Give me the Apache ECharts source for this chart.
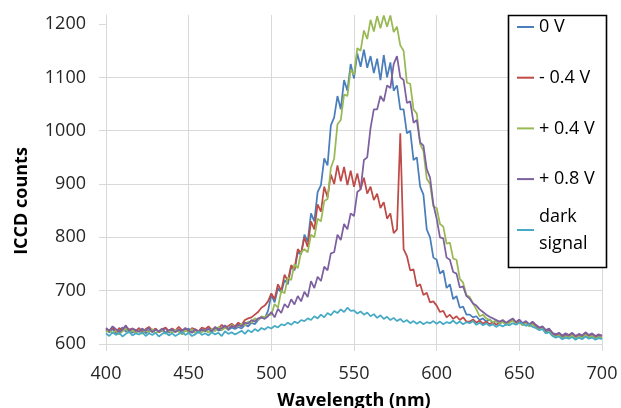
<!DOCTYPE html>
<html><head><meta charset="utf-8">
<script src="https://cdn.jsdelivr.net/npm/echarts@6/dist/echarts.min.js"></script>
<style>html,body{margin:0;padding:0;background:#fff}#c{width:621px;height:408px}</style>
</head><body><div id="c"></div>
<script>
const wavelengths = [
400,402,404,406,408,410,412,414,416,418,
420,422,424,426,428,430,432,434,436,438,
440,442,444,446,448,450,452,454,456,458,
460,462,464,466,468,470,472,474,476,478,
480,482,484,486,488,490,492,494,496,498,
500,502,504,506,508,510,512,514,516,518,
520,522,524,526,528,530,532,534,536,538,
540,542,544,546,548,550,552,554,556,558,
560,562,564,566,568,570,572,574,576,578,
580,582,584,586,588,590,592,594,596,598,
600,602,604,606,608,610,612,614,616,618,
620,622,624,626,628,630,632,634,636,638,
640,642,644,646,648,650,652,654,656,658,
660,662,664,666,668,670,672,674,676,678,
680,682,684,686,688,690,692,694,696,698,
700];

const seriesNames = ['0 V', '- 0.4 V', '+ 0.4 V', '+ 0.8 V', 'dark signal'];

const v0 = [
626,622,628,620,625,631,623,627,621,626,
624,629,620,626,623,628,622,625,630,621,
626,623,627,620,625,629,622,626,621,627,
624,628,622,630,625,627,633,626,631,628,
632,629,636,633,640,637,645,650,648,662,
692,678,705,696,720,712,745,738,772,768,
805,792,845,830,885,898,948,935,1010,1025,
1065,1040,1095,1075,1125,1098,1145,1120,1152,1118,
1140,1108,1135,1095,1142,1100,1128,1075,1085,1040,
1040,995,1000,945,950,895,880,815,800,762,
758,732,738,705,712,684,690,668,670,655,
655,650,652,645,648,642,646,640,643,638,
642,636,640,645,638,642,636,640,634,638,
632,628,630,622,625,618,614,617,612,616,
613,617,611,615,612,618,613,616,611,614,
612];

const vMinus04 = [
628,624,632,622,630,625,633,627,629,624,
630,623,628,632,625,629,622,627,631,624,
629,625,632,626,628,622,630,627,624,631,
628,633,626,631,629,636,630,634,638,633,
640,636,645,648,650,655,660,668,672,680,
695,684,712,700,730,718,748,740,778,770,
800,782,830,815,862,848,895,875,918,900,
935,905,932,898,925,895,920,890,912,882,
895,870,882,855,866,835,845,808,815,995,
778,765,738,740,708,712,692,696,678,680,
672,660,662,650,655,647,652,645,650,642,
642,646,640,644,638,642,637,641,636,640,
643,638,642,646,639,644,637,642,636,640,
635,630,632,625,628,620,617,620,615,619,
616,620,614,618,615,621,616,619,614,617,
615];

const vPlus04 = [
622,627,620,625,618,624,629,621,626,620,
625,619,627,622,628,620,624,626,619,625,
621,627,623,618,626,622,628,620,625,622,
627,621,629,624,632,626,630,628,636,631,
634,638,635,642,640,648,645,652,650,655,
655,675,668,700,695,725,720,750,742,772,
778,772,805,800,835,830,868,872,930,948,
1012,1020,1068,1065,1115,1105,1155,1150,1188,1172,
1208,1186,1215,1192,1216,1195,1216,1185,1195,1160,
1150,1090,1088,1040,1032,975,962,910,900,858,
855,825,820,788,790,760,758,722,715,692,
688,676,665,652,655,648,645,641,644,639,
641,636,640,644,637,641,635,639,633,637,
630,627,629,620,623,616,613,616,610,614,
612,616,610,614,611,617,612,615,610,613,
611];

const vPlus08 = [
630,625,633,628,622,627,635,624,629,626,
623,628,625,630,622,627,624,629,621,626,
628,622,627,624,630,625,621,628,623,627,
625,629,624,632,627,630,635,628,634,631,
636,633,640,638,645,642,648,650,647,652,
660,650,666,658,675,668,684,674,690,680,
698,688,718,705,726,718,745,738,770,772,
805,795,825,815,845,840,885,890,945,950,
1005,1040,1040,1065,1055,1085,1080,1125,1140,1100,
1095,1052,1055,1015,1020,978,972,928,912,862,
835,800,798,762,758,735,732,706,708,690,
685,676,672,665,660,655,651,648,645,642,
645,640,644,648,641,646,639,643,637,642,
636,631,633,626,629,621,618,621,616,620,
617,621,615,619,616,622,617,620,615,618,
616];

const vDark = [
620,615,622,617,621,614,619,623,616,620,
618,622,615,620,617,621,614,619,622,616,
620,615,619,622,617,621,615,618,623,617,
620,616,622,618,621,615,624,619,622,618,
621,625,619,626,622,628,624,630,627,632,
629,634,631,637,635,640,636,642,639,645,
643,648,645,652,648,655,650,658,654,662,
658,665,660,668,662,663,657,661,655,659,
652,656,649,654,647,651,645,649,643,647,
641,645,639,643,638,642,637,641,639,643,
638,642,637,641,639,644,638,642,637,641,
639,643,636,640,635,639,634,637,632,636,
633,637,635,639,636,640,638,634,637,632,
630,626,628,620,622,615,612,614,609,612,
610,613,608,612,609,614,610,612,608,611,
609];

const xTicks = [400, 450, 500, 550, 600, 650, 700];
const yTicks = [600, 700, 800, 900, 1000, 1100, 1200];

const colors = ['#4a7ebb', '#be4b48', '#98b954', '#7d60a0', '#46aac5'];
const allValues = [v0, vMinus04, vPlus04, vPlus08, vDark];

const chart = echarts.init(document.getElementById('c'), null, {renderer: 'canvas'});
const FONT = 'Open Sans';
const gridColor = '#d9d9d9';

const series = allValues.map((vals, k) => ({
  name: seriesNames[k],
  type: 'line',
  showSymbol: false,
  symbol: 'none',
  animation: false,
  lineStyle: {width: 1.75, color: colors[k]},
  itemStyle: {color: colors[k]},
  data: wavelengths.map((w, i) => [w, vals[i]])
}));

chart.setOption({
  animation: false,
  color: colors,
  grid: {left: 106, right: 19, top: 15, bottom: 64, containLabel: false, outerBoundsMode: 'none'},
  xAxis: {
    type: 'value', min: 400, max: 700, interval: 50,
    name: 'Wavelength (nm)', nameLocation: 'middle', nameGap: 48,
    nameTextStyle: {fontFamily: FONT, fontSize: 18, fontWeight: 'bold', color: '#000'},
    axisLine: {show: true, lineStyle: {color: gridColor, width: 1}},
    axisTick: {show: true, length: 7, lineStyle: {color: gridColor}},
    axisLabel: {margin: 21, fontFamily: FONT, fontSize: 18, color: '#262626',
      customValues: xTicks, formatter: v => String(v)},
    splitLine: {show: true, lineStyle: {color: gridColor, width: 1}}
  },
  yAxis: {
    type: 'value', min: 600, max: 1217, interval: 100,
    axisLine: {show: true, lineStyle: {color: gridColor, width: 1}},
    axisTick: {show: true, length: 7, lineStyle: {color: gridColor}, customValues: yTicks},
    axisLabel: {margin: 20, fontFamily: FONT, fontSize: 18, color: '#262626',
      customValues: yTicks, formatter: v => String(v)},
    splitLine: {show: true, showMaxLine: false, lineStyle: {color: gridColor, width: 1}}
  },
  legend: [{
    data: seriesNames.slice(0, 4),
    orient: 'vertical', left: 517, top: 15, padding: 0,
    icon: 'rect', itemWidth: 17, itemHeight: 2, itemGap: 26.7,
    textStyle: {fontFamily: FONT, fontSize: 18, lineHeight: 24, color: '#000'},
    selectedMode: false, z: 10
  }, {
    data: [seriesNames[4]],
    orient: 'vertical', left: 517, top: 189.5, padding: 0,
    icon: 'rect', itemWidth: 17, itemHeight: 2,
    formatter: () => 'dark\nsignal',
    textStyle: {fontFamily: FONT, fontSize: 18, lineHeight: 27, color: '#000', padding: [27, 0, 0, 0]},
    selectedMode: false, z: 10
  }],
  graphic: [{
    type: 'rect', z: 8,
    shape: {x: 508.5, y: 15.5, width: 98, height: 252},
    style: {fill: '#fff', stroke: '#000', lineWidth: 1.6}
  }, {
    type: 'text', z: 8,
    x: 22, y: 201, rotation: Math.PI / 2,
    style: {text: 'ICCD counts', font: 'bold 18px "Open Sans"', fill: '#000',
      textAlign: 'center', textVerticalAlign: 'middle'}
  }],
  series: series
});
</script>
</body></html>
